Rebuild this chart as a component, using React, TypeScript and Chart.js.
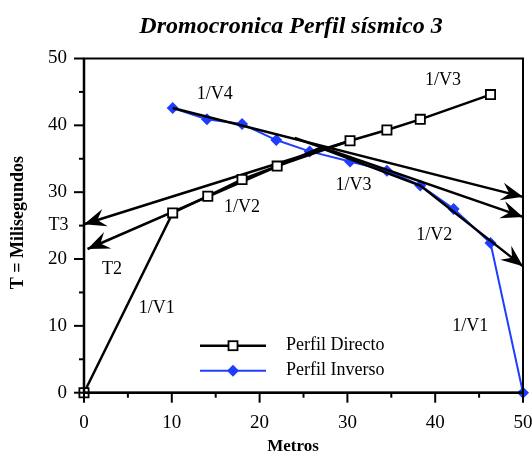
import React, { useEffect, useRef } from 'react';
import { Chart, registerables } from 'chart.js';
Chart.register(...registerables);

// ---- data ----
const directoX = [0, 10.1, 14.1, 18, 22, 30.3, 34.5, 38.3, 46.3];
const directoT = [0, 26.9, 29.4, 31.9, 33.9, 37.7, 39.3, 40.9, 44.6];
const inversoX = [10.1, 14, 18, 21.9, 25.7, 30.3, 34.5, 38.3, 42.1, 46.3, 50];
const inversoT = [42.6, 40.9, 40.2, 37.8, 36.1, 34.6, 33.2, 31.0, 27.5, 22.4, 0];

// fitted velocity lines (arrows)
const arrowT3X = [30.3, 0];
const arrowT3Y = [37.7, 25.2];
const arrowT2X = [27, 0.4];
const arrowT2Y = [36.7, 21.5];
const arrowV4X = [10.1, 50];
const arrowV4Y = [42.6, 29.3];
const arrowV3X = [24, 50];
const arrowV3Y = [38.1, 26.3];
const arrowV2X = [27, 38.3, 50];
const arrowV2Y = [36.6, 31.0, 18.9];

// annotations
const noteText = ['1/V4', '1/V3', '1/V2', 'T3', 'T2', '1/V1', '1/V3', '1/V2', '1/V1'];
const noteX = [14.9, 40.9, 18.0, -2.9, 3.2, 8.3, 30.7, 39.9, 44.0];
const noteY = [44.6, 46.8, 27.8, 25.0, 18.5, 12.6, 31.1, 23.6, 9.9];

const seriesNames = ['Perfil Directo', 'Perfil Inverso'];
const titleText = 'Dromocronica Perfil sísmico 3';
const xTitle = 'Metros';
const yTitle = 'T = Milisegundos';
const xTicks = [0, 10, 20, 30, 40, 50];
const yTicks = [0, 10, 20, 30, 40, 50];

const SERIF = '"Liberation Serif", "Times New Roman", serif';
const BLUE = '#1f3dff';

const pts = (xs: number[], ys: number[]) => xs.map((x, i) => ({ x, y: ys[i] }));

export default function App() {
  const ref = useRef<HTMLCanvasElement>(null);
  useEffect(() => {
    const canvas = ref.current!;
    const arrowDs = (xs: number[], ys: number[]) => ({
      data: pts(xs, ys),
      showLine: true,
      borderColor: '#000',
      backgroundColor: '#000',
      borderWidth: 2.5,
      pointRadius: 0,
      pointHoverRadius: 0,
      clip: false,
      order: 2,
      arrow: true,
      fill: false,
    });

    const deco = {
      id: 'deco',
      afterDatasetsDraw(chart: any) {
        const ctx = chart.ctx;
        chart.data.datasets.forEach((ds: any, i: number) => {
          if (!ds.arrow) return;
          const meta = chart.getDatasetMeta(i);
          const n = meta.data.length;
          const p1 = meta.data[n - 2];
          const p2 = meta.data[n - 1];
          const ang = Math.atan2(p2.y - p1.y, p2.x - p1.x);
          ctx.save();
          ctx.translate(p2.x, p2.y);
          ctx.rotate(ang);
          ctx.beginPath();
          ctx.moveTo(0, 0);
          ctx.lineTo(-22, -9);
          ctx.lineTo(-14, 0);
          ctx.lineTo(-22, 9);
          ctx.closePath();
          ctx.fillStyle = '#000';
          ctx.fill();
          ctx.restore();
        });
      },
      afterDraw(chart: any) {
        const ctx = chart.ctx;
        const a = chart.chartArea;
        const xs = chart.scales.x;
        const ys = chart.scales.y;
        ctx.save();
        // frame
        ctx.strokeStyle = '#000';
        ctx.lineWidth = 2;
        ctx.strokeRect(a.left, a.top, a.right - a.left, a.bottom - a.top);
        ctx.lineWidth = 2.5;
        ctx.beginPath();
        ctx.moveTo(a.left, a.top);
        ctx.lineTo(a.left, a.bottom);
        ctx.lineTo(a.right, a.bottom);
        ctx.stroke();
        // ticks
        ctx.lineWidth = 2;
        for (let v = 0; v <= 50; v += 5) {
          const len = v % 10 === 0 ? 10 : 5;
          const py = ys.getPixelForValue(v);
          ctx.beginPath();
          ctx.moveTo(a.left - len, py);
          ctx.lineTo(a.left, py);
          ctx.stroke();
          const px = xs.getPixelForValue(v);
          ctx.beginPath();
          ctx.moveTo(px, a.bottom);
          ctx.lineTo(px, a.bottom + len);
          ctx.stroke();
        }
        ctx.fillStyle = '#000';
        // title
        ctx.font = `bold italic 24px ${SERIF}`;
        ctx.textAlign = 'center';
        ctx.textBaseline = 'middle';
        ctx.fillText(titleText, a.left + 207, a.top - 32);
        // axis titles
        ctx.font = `bold 17px ${SERIF}`;
        ctx.fillText(xTitle, a.left + 209, a.bottom + 54);
        ctx.save();
        ctx.translate(18, (a.top + a.bottom) / 2 - 3);
        ctx.rotate(-Math.PI / 2);
        ctx.font = `bold 18px ${SERIF}`;
        ctx.fillText(yTitle, 0, 0);
        ctx.restore();
        // annotations
        ctx.font = `18px ${SERIF}`;
        noteText.forEach((t, i) => {
          ctx.fillText(t, xs.getPixelForValue(noteX[i]), ys.getPixelForValue(noteY[i]));
        });
        // legend
        const lx0 = a.left + 116;
        const lx1 = a.left + 182;
        const rows = [a.bottom - 47, a.bottom - 22];
        const colors = ['#000', BLUE];
        rows.forEach((ry, i) => {
          ctx.strokeStyle = colors[i];
          ctx.lineWidth = i === 0 ? 2.5 : 2;
          ctx.beginPath();
          ctx.moveTo(lx0, ry);
          ctx.lineTo(lx1, ry);
          ctx.stroke();
          const cx = (lx0 + lx1) / 2;
          if (i === 0) {
            ctx.fillStyle = '#fff';
            ctx.fillRect(cx - 4.5, ry - 4.5, 9, 9);
            ctx.lineWidth = 1.8;
            ctx.strokeStyle = '#000';
            ctx.strokeRect(cx - 4.5, ry - 4.5, 9, 9);
          } else {
            ctx.fillStyle = BLUE;
            ctx.beginPath();
            ctx.moveTo(cx - 6, ry);
            ctx.lineTo(cx, ry - 6);
            ctx.lineTo(cx + 6, ry);
            ctx.lineTo(cx, ry + 6);
            ctx.closePath();
            ctx.fill();
          }
          ctx.fillStyle = '#000';
          ctx.font = `18px ${SERIF}`;
          ctx.textAlign = 'left';
          ctx.fillText(seriesNames[i], a.left + 202, ry);
        });
        ctx.restore();
      },
    };

    const chart = new Chart(canvas, {
      type: 'scatter',
      data: {
        datasets: [
          {
            label: seriesNames[1],
            data: pts(inversoX, inversoT),
            showLine: true,
            borderColor: BLUE,
            backgroundColor: BLUE,
            borderWidth: 2,
            pointStyle: 'rectRot',
            pointRadius: 6,
            pointBorderWidth: 0,
            clip: false,
            order: 3,
          } as any,
          arrowDs(arrowT3X, arrowT3Y),
          arrowDs(arrowT2X, arrowT2Y),
          arrowDs(arrowV4X, arrowV4Y),
          arrowDs(arrowV3X, arrowV3Y),
          arrowDs(arrowV2X, arrowV2Y),
          {
            label: seriesNames[0],
            data: pts(directoX, directoT),
            showLine: true,
            borderColor: '#000',
            backgroundColor: '#fff',
            borderWidth: 2.5,
            pointStyle: 'rect',
            pointRadius: 6.5,
            pointBorderWidth: 1.8,
            pointBorderColor: '#000',
            pointBackgroundColor: '#fff',
            clip: false,
            order: 1,
          } as any,
        ],
      },
      options: {
        responsive: false,
        animation: false,
        events: [],
        layout: { padding: { left: 0, right: 9, top: 58.5, bottom: 0 } },
        plugins: {
          legend: { display: false },
          title: { display: false },
          tooltip: { enabled: false },
        },
        scales: {
          x: {
            type: 'linear',
            min: 0,
            max: 50,
            afterBuildTicks: (s: any) => { s.ticks = xTicks.map((v) => ({ value: v })); },
            grid: { display: true, drawOnChartArea: false, drawTicks: false, color: 'rgba(0,0,0,0)' },
            border: { display: false },
            ticks: { color: '#000', padding: 19, font: { family: SERIF, size: 19 } },
            afterFit: (s: any) => {
              s.height = 63.3;
              s.paddingLeft = 0;
              s.paddingRight = 0;
            },
          },
          y: {
            type: 'linear',
            min: 0,
            max: 50,
            afterBuildTicks: (s: any) => { s.ticks = yTicks.map((v) => ({ value: v })); },
            grid: { display: true, drawOnChartArea: false, drawTicks: false, color: 'rgba(0,0,0,0)' },
            border: { display: false },
            ticks: { color: '#000', padding: 17, font: { family: SERIF, size: 19 } },
            afterFit: (s: any) => {
              s.width = 84;
              s.paddingTop = 0;
              s.paddingBottom = 0;
            },
          },
        },
      } as any,
      plugins: [deco],
    });
    return () => chart.destroy();
  }, []);

  return (
    <div style={{ position: 'fixed', left: 0, top: 0, width: 532, height: 456, background: '#fff' }}>
      <canvas ref={ref} width={532} height={456} style={{ display: 'block', width: 532, height: 456 }} />
    </div>
  );
}
